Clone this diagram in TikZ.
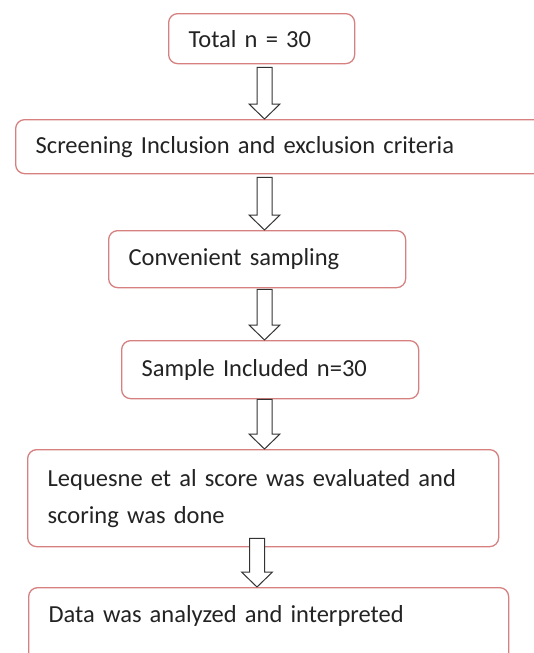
\documentclass[tikz,border=0pt]{standalone}
\usepackage{fontspec}
\setmainfont{Carlito}
\usetikzlibrary{calc}
\definecolor{boxline}{RGB}{214,128,128}
\definecolor{inktext}{RGB}{35,35,35}
% hollow down arrow: from node, to node, axis coordinate, gap below the upper box
\newcommand{\hollowarrow}[4]{%
  \draw[hollow] let \p1=(#1.south), \p2=(#2.north), \p3=(#3) in
    ({\x3-7.5pt},{\y1-(#4)}) -- ({\x3+7.5pt},{\y1-(#4)}) -- ({\x3+7.5pt},{\y2+15pt})
    -- ({\x3+15.5pt},{\y2+15pt}) -- (\x3,\y2) -- ({\x3-15.5pt},{\y2+15pt})
    -- ({\x3-7.5pt},{\y2+15pt}) -- cycle;}
\begin{document}
\begin{tikzpicture}[x=1pt,y=-1pt,
  box/.style={draw=boxline, line width=1.3pt, rounded corners=9pt, fill=white,
    anchor=north west, inner xsep=20pt, inner ysep=0pt, align=left,
    text=inktext, font=\fontsize{24.5}{37}\selectfont},
  hollow/.style={draw=black!80, fill=white, line width=1pt, line join=miter}]
\useasboundingbox (0,0) rectangle (534,653);
\clip (0,0) rectangle (534,653);

\coordinate (ax1) at (264.5,0);
\coordinate (ax2) at (257,0);

\node[box, text width=146pt, minimum height=50pt] (total) at (168,13) {Total n = 30};
\node[box, text width=490pt, minimum height=54pt] (screen) at (15,119) {Screening Inclusion and exclusion criteria};
\node[box, text width=257pt, minimum height=57pt] (conv) at (108,230) {Convenient sampling};
\node[box, text width=257pt, minimum height=58pt] (sample) at (121,340) {Sample Included n=30};
\node[box, text width=431pt, minimum height=97pt] (leq) at (27,449) {Lequesne et al score was evaluated and\\scoring was done};
\node[box, text width=440pt, minimum height=90pt] (data) at (28,587) {Data was analyzed and interpreted\\~};

\hollowarrow{total}{screen}{ax1}{3pt}
\hollowarrow{screen}{conv}{ax1}{3pt}
\hollowarrow{conv}{sample}{ax1}{1pt}
\hollowarrow{sample}{leq}{ax1}{0pt}
\hollowarrow{leq}{data}{ax2}{-9pt}
\end{tikzpicture}
\end{document}
